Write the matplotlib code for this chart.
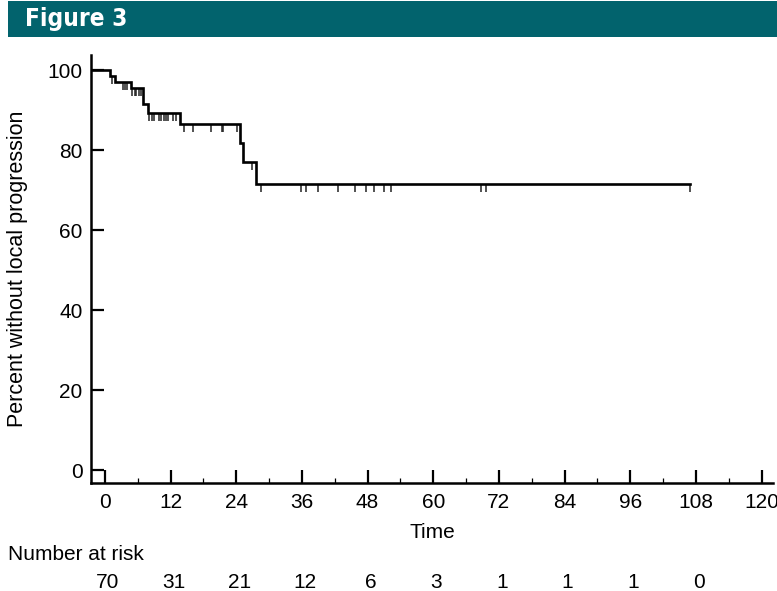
import numpy as np
import matplotlib
matplotlib.use("Agg")
import matplotlib.pyplot as plt
from matplotlib.patches import Rectangle

plt.rcParams['font.family'] = ['Liberation Sans', 'DejaVu Sans']

# Kaplan-Meier step curve: event times (months) and survival (%) after each step
step_times = [0.0, 0.9, 1.8, 4.7, 7.0, 7.8, 13.7, 24.7, 25.3, 27.6]
step_values = [100.0, 98.6, 97.1, 95.6, 91.5, 89.3, 86.4, 81.8, 76.9, 71.6]
last_followup = 107.0

# Censored observations (months)
censor_times = [1.2, 3.2, 3.6, 4.1, 5.0, 5.4, 5.7, 6.2, 6.5,
                8.0, 8.5, 9.0, 9.9, 10.3, 10.7, 11.1, 11.5, 12.4, 12.9,
                14.5, 16.1, 19.3, 21.3, 21.6, 24.2, 26.8, 28.6,
                35.8, 36.7, 38.9, 42.5, 45.7, 47.7, 49.1, 51.0, 52.3,
                68.7, 69.7, 107.0]

risk_times = [0, 12, 24, 36, 48, 60, 72, 84, 96, 108]
risk_counts = [70, 31, 21, 12, 6, 3, 1, 1, 1, 0]

x_ticks = list(range(0, 121, 12))
y_ticks = [0, 20, 40, 60, 80, 100]

W, H = 777, 591
fig = plt.figure(figsize=(W / 100, H / 100), dpi=100)

# Header bar
fig.patches.append(Rectangle((8 / W, (H - 37) / H), 1 - 8 / W, 36 / H,
                             transform=fig.transFigure, facecolor='#02636d',
                             edgecolor='none', zorder=0))
fig.text(25 / W, (H - 19) / H, 'Figure 3', color='white', fontsize=17.5,
         fontweight='bold', fontstretch='condensed',
         family=['DejaVu Sans'], va='center', ha='left')

ax = fig.add_axes([91 / W, (H - 483) / H, (773 - 91) / W, (483 - 55) / H])
xmin, xmax = -2.56, 122.1
ax.set_xlim(xmin, xmax)
ax.set_ylim(-3.25, 103.75)

# Survival curve, drawn from the left edge of the axis
xs = [xmin] + step_times + [last_followup]
ys = [step_values[0]] + step_values + [step_values[-1]]
ax.step(xs, ys, where='post', color='black', lw=1.9, solid_joinstyle='miter',
        zorder=3)

# Censor marks hang below the curve
st = np.array(step_times)
sv = np.array(step_values)
cens_levels = [sv[np.searchsorted(st, t, side='right') - 1] for t in censor_times]
ax.vlines(censor_times, np.array(cens_levels) - 2.0, cens_levels,
          color='#222222', lw=1.1, zorder=2)

for side in ('top', 'right'):
    ax.spines[side].set_visible(False)
for side in ('left', 'bottom'):
    ax.spines[side].set_linewidth(1.8)

ax.set_xticks(x_ticks)
ax.set_xticks(list(range(6, 121, 12)), minor=True)
ax.set_yticks(y_ticks)
ax.tick_params(axis='both', which='major', direction='in', length=9.5,
               width=1.6, labelsize=15, color='black')
ax.tick_params(axis='x', which='major', pad=7)
ax.tick_params(axis='y', which='major', pad=6)
ax.tick_params(axis='x', which='minor', direction='in', length=3.5, width=0.9)

ax.set_xlabel('Time', fontsize=15, labelpad=8)
ax.set_ylabel('Percent without local progression', fontsize=15.5)
ax.yaxis.set_label_coords(-0.093, 0.5)

# Number at risk table
fig.text(8 / W, (H - 555) / H, 'Number at risk', fontsize=15,
         ha='left', va='center')
for t, n in zip(risk_times, risk_counts):
    xf = fig.transFigure.inverted().transform(ax.transData.transform((t, 0)))[0]
    fig.text(xf + 3 / W, (H - 582) / H, str(n), fontsize=15,
             ha='center', va='center')

fig.savefig('out.png', dpi=100)
